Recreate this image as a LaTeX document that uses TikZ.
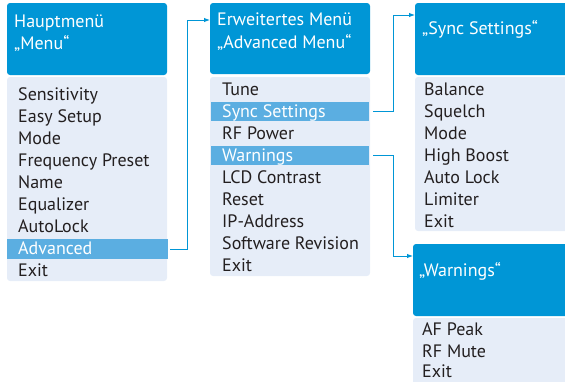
\documentclass[tikz,border=0pt]{standalone}
\usepackage{fontspec}
\setmainfont{PT Sans}
\usetikzlibrary{arrows.meta}
\definecolor{headblue}{HTML}{0096D6}
\definecolor{bodyblue}{HTML}{E6EDF8}
\definecolor{rowblue}{HTML}{5BAEE1}
\definecolor{textgrey}{HTML}{231F20}
\newcommand\menufont{\fontsize{18}{21}\selectfont}
\begin{document}
\begin{tikzpicture}[x=1pt, y=-1pt,
  head/.style={fill=headblue, rounded corners=3pt, anchor=north west, inner sep=0pt, outer sep=0pt},
  panel/.style={fill=bodyblue, rounded corners=3pt, anchor=north west, inner sep=0pt, outer sep=0pt},
  row/.style={fill=rowblue, anchor=north west, inner sep=0pt, outer sep=0pt},
  item/.style={anchor=base west, inner sep=0pt, text=textgrey, font=\menufont},
  title/.style={item, text=white},
  conn/.style={draw=headblue, line width=0.9pt, -{Latex[length=6pt,width=4.5pt]}}
]
\clip (0,0) rectangle (565,381);

% Hauptmenue
\node[head, minimum width=160pt, minimum height=72pt] (hmenu) at (7,3) {};
\node[panel, minimum width=160pt, minimum height=204pt] (bmenu) at (7,77) {};
\node[row, minimum width=161pt, minimum height=20pt] (adv) at (7,239) {};
\node[title] (tmenu1) at (14,27) {Hauptmenü};
\node[title] (tmenu2) at (14,49) {„Menu“};
\node[item] (sens) at (18,100) {Sensitivity};
\node[item] (easy) at (18,122) {Easy Setup};
\node[item] (mode) at (18,144) {Mode};
\node[item] (freq) at (18,166) {Frequency Preset};
\node[item] (name) at (18,188) {Name};
\node[item] (equal) at (18,210) {Equalizer};
\node[item] (alock) at (18,232) {AutoLock};
\node[title] (advtxt) at (18,254) {Advanced};
\node[item] (exit1) at (18,276) {Exit};

% Erweitertes Menue
\node[head, minimum width=160pt, minimum height=71pt] (hadv) at (210,3) {};
\node[panel, minimum width=160pt, minimum height=199pt] (badv) at (210,77) {};
\node[row, minimum width=158pt, minimum height=19pt] (sync) at (211,102) {};
\node[row, minimum width=158pt, minimum height=19pt] (warn) at (211,146) {};
\node[title] (tadv1) at (217,25) {Erweitertes Menü};
\node[title] (tadv2) at (217,48) {„Advanced Menu“};
\node[item] (tune) at (222,95) {Tune};
\node[title] (synctxt) at (222,117) {Sync Settings};
\node[item] (rfpow) at (222,139) {RF Power};
\node[title] (warntxt) at (222,161) {Warnings};
\node[item] (lcd) at (222,183) {LCD Contrast};
\node[item] (reset) at (222,205) {Reset};
\node[item] (ip) at (222,227) {IP-Address};
\node[item] (softrev) at (222,249) {Software Revision};
\node[item] (exit2) at (222,271) {Exit};

% Sync Settings
\node[head, minimum width=160pt, minimum height=72pt] (hsync) at (415,3) {};
\node[panel, minimum width=160pt, minimum height=154pt] (bsync) at (415,77) {};
\node[title] (tsync) at (422,34) {„Sync Settings“};
\node[item] (bal) at (424,95) {Balance};
\node[item] (squelch) at (424,117) {Squelch};
\node[item] (mode3) at (424,139) {Mode};
\node[item] (hboost) at (424,161) {High Boost};
\node[item] (alock3) at (424,183) {Auto Lock};
\node[item] (limit) at (424,205) {Limiter};
\node[item] (exit3) at (424,227) {Exit};

% Warnings
\node[head, minimum width=160pt, minimum height=72pt] (hwarn) at (413,244) {};
\node[panel, minimum width=160pt, minimum height=80pt] (bwarn) at (413,318) {};
\node[title] (twarn) at (419,276) {„Warnings“};
\node[item] (afpeak) at (422,335) {AF Peak};
\node[item] (rfmute) at (422,357) {RF Mute};
\node[item] (exit4) at (422,377) {Exit};

\draw[conn, shorten <=2pt] (adv.east) -- ++(19,0) |- ([yshift=-17pt]hadv.north west);
\draw[conn, shorten <=4pt] (sync.east) -- ++(24,0) |- ([yshift=-12pt]hsync.north west);
\draw[conn, shorten <=4pt] (warn.east) -- ++(24,0) |- ([yshift=-12pt]hwarn.north west);
\end{tikzpicture}
\end{document}
